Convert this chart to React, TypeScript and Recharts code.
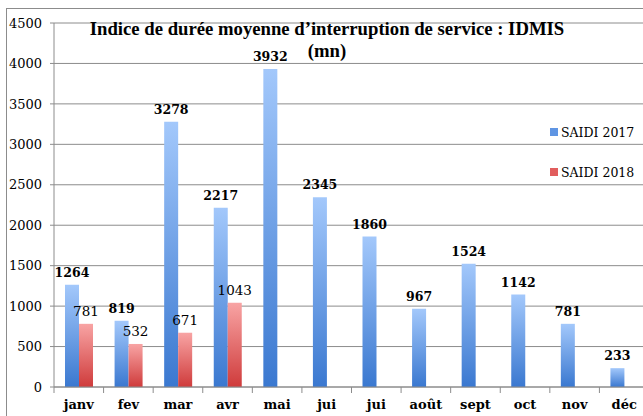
import React from "react";
import { BarChart, Bar, XAxis, YAxis, CartesianGrid, LabelList } from "recharts";

const months = ["janv", "fev", "mar", "avr", "mai", "jui", "jui", "août", "sept", "oct", "nov", "déc"];
const saidi2017 = [1264, 819, 3278, 2217, 3932, 2345, 1860, 967, 1524, 1142, 781, 233];
const saidi2018: (number | null)[] = [781, 532, 671, 1043, null, null, null, null, null, null, null, null];
const yTicks = [0, 500, 1000, 1500, 2000, 2500, 3000, 3500, 4000, 4500];
const seriesNames = ["SAIDI 2017", "SAIDI 2018"];
const titleLines = ["Indice de durée moyenne d\u2019interruption de service : IDMIS", "(mn)"];

const data = months.map((m, i) => ({ month: m, s2017: saidi2017[i], s2018: saidi2018[i] }));

const GRID = "#8c8c8c";
const SERIF = "'DejaVu Serif', serif";

function MonthTick(props: any) {
  const { x, y, payload, width, visibleTicksCount } = props;
  let half = payload && typeof payload.offset === "number" && payload.offset > 0 ? payload.offset : 0;
  if (!half && width && visibleTicksCount) half = width / visibleTicksCount / 2;
  return (
    <g>
      <line x1={x - half} x2={x - half} y1={y - 13} y2={y - 7} stroke={GRID} />
      <text x={x} y={y} dy="0.71em" textAnchor="middle" fontFamily={SERIF} fontSize={13} fontWeight="bold" fill="#000">
        {payload.value}
      </text>
    </g>
  );
}

export default function App() {
  return (
    <div style={{ position: "fixed", left: 0, top: 0, width: 643, height: 416, overflow: "hidden", background: "#fff" }}>
      <div style={{ position: "absolute", left: 6, top: 8, width: 800, height: 600, borderTop: `1px solid ${GRID}`, borderLeft: `1px solid ${GRID}` }} />
      <div style={{ position: "absolute", left: 0, top: 0 }}>
        <BarChart width={660} height={416} data={data} margin={{ top: 23, right: 11, bottom: 0, left: 0 }} barGap={0} barSize={14}>
          <defs>
            <linearGradient id="gBlue" x1="0" y1="0" x2="0" y2="1">
              <stop offset="0%" stopColor="#a3c8fb" />
              <stop offset="100%" stopColor="#3a78d0" />
            </linearGradient>
            <linearGradient id="gRed" x1="0" y1="0" x2="0" y2="1">
              <stop offset="0%" stopColor="#f8a4a4" />
              <stop offset="100%" stopColor="#cf3b3b" />
            </linearGradient>
          </defs>
          <CartesianGrid vertical={false} stroke={GRID} strokeWidth={1} />
          <XAxis
            dataKey="month"
            allowDuplicatedCategory
            axisLine={{ stroke: GRID }}
            tickLine={false}
            tickSize={6}
            tickMargin={7}
            height={29}
            interval={0}
            tick={<MonthTick />}
          />
          <YAxis
            domain={[0, 4500]}
            ticks={yTicks}
            width={54}
            axisLine={{ stroke: GRID }}
            tickLine={{ stroke: GRID }}
            tickSize={4}
            tickMargin={8}
            interval={0}
            tick={{ fontFamily: SERIF, fontSize: 13, fill: "#000" }}
          />
          <Bar dataKey="s2017" name={seriesNames[0]} fill="url(#gBlue)" isAnimationActive={false}>
            <LabelList dataKey="s2017" position="top" offset={8} style={{ fontFamily: SERIF, fontSize: 12.5, fontWeight: "bold", fill: "#000" }} />
          </Bar>
          <Bar dataKey="s2018" name={seriesNames[1]} fill="url(#gRed)" isAnimationActive={false}>
            <LabelList dataKey="s2018" position="top" offset={8} style={{ fontFamily: SERIF, fontSize: 13.5, fill: "#000" }} />
          </Bar>
        </BarChart>
      </div>
      <div style={{ position: "absolute", left: 0, top: 18, width: 654, textAlign: "center", fontFamily: "'Liberation Serif', 'Times New Roman', serif", fontWeight: "bold", fontSize: 18.7, lineHeight: "22px", color: "#000" }}>
        <div>{titleLines[0]}</div>
        <div>{titleLines[1]}</div>
      </div>
      <div style={{ position: "absolute", left: 550, top: 124, fontFamily: SERIF, fontSize: 12.5, color: "#000" }}>
        <div style={{ display: "flex", alignItems: "center", height: 16 }}>
          <span style={{ display: "inline-block", width: 8, height: 8, background: "#5f95e3", marginRight: 3 }} />
          <span>{seriesNames[0]}</span>
        </div>
        <div style={{ display: "flex", alignItems: "center", height: 16, marginTop: 24 }}>
          <span style={{ display: "inline-block", width: 8, height: 8, background: "#e15d5d", marginRight: 3 }} />
          <span>{seriesNames[1]}</span>
        </div>
      </div>
    </div>
  );
}
